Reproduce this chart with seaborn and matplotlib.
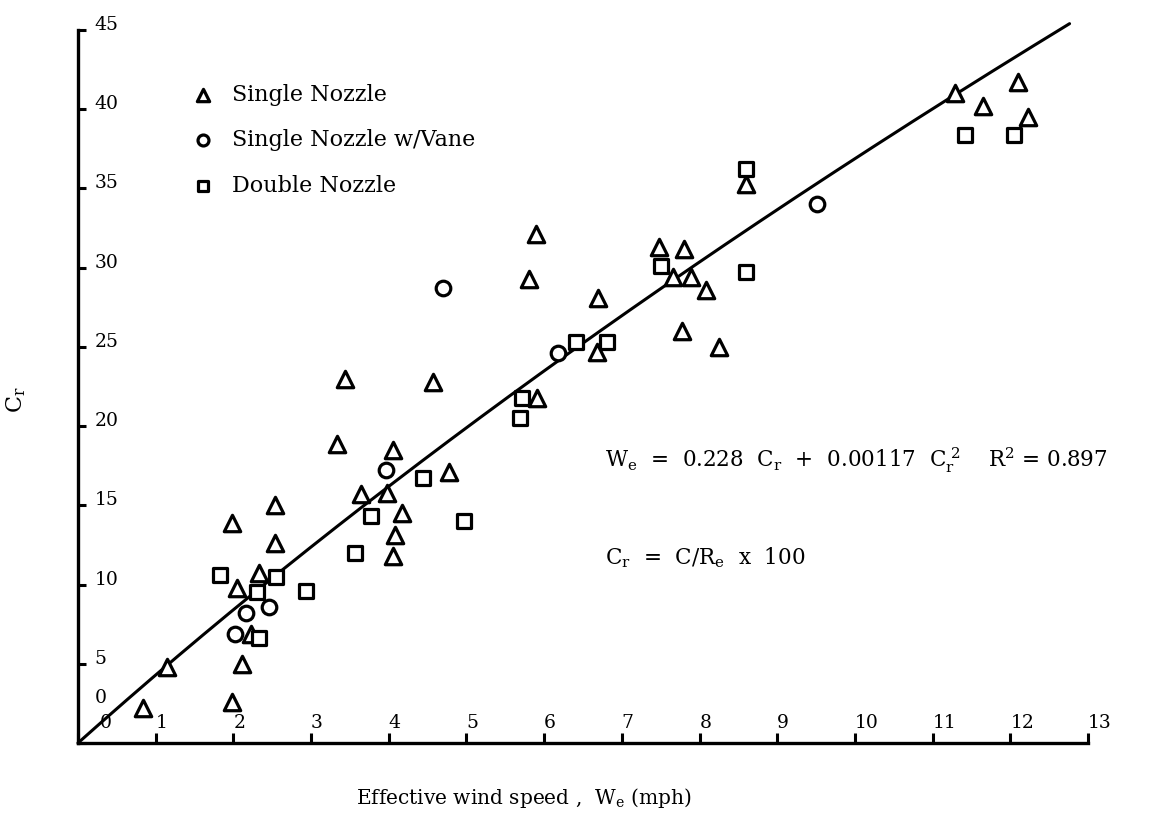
import matplotlib
matplotlib.use("Agg")
import matplotlib.pyplot as plt
import matplotlib.transforms as mtransforms
import numpy as np
import pandas as pd
import seaborn as sns

# Single nozzle measurements (effective wind speed in mph, C_r)
single_x = [0.84, 1.15, 1.98, 2.11, 2.23, 2.05, 2.33, 1.98, 2.54, 2.54,
            3.33, 3.44, 3.64, 3.98, 4.05, 4.17, 4.08, 4.05, 4.57, 4.77,
            5.80, 5.89, 5.91, 6.68, 6.69, 7.48, 7.80, 7.66, 7.89, 8.08,
            7.77, 8.25, 8.60, 11.29, 11.65, 12.10, 12.23]
single_y = [2.2, 4.8, 2.6, 5.0, 6.9, 9.8, 10.7, 13.9, 12.6, 15.0,
            18.9, 23.0, 15.7, 15.8, 18.5, 14.5, 13.1, 11.8, 22.8, 17.1,
            29.3, 32.1, 21.8, 24.7, 28.1, 31.3, 31.2, 29.4, 29.4, 28.6,
            26.0, 25.0, 35.3, 41.0, 40.2, 41.7, 39.5]

# Single nozzle with vane
vane_x = [2.02, 2.16, 2.46, 3.96, 4.70, 6.18, 9.51]
vane_y = [6.9, 8.2, 8.6, 17.2, 28.7, 24.6, 34.0]

# Double nozzle
double_x = [2.33, 2.30, 2.55, 1.83, 2.93, 3.56, 3.77, 4.44, 4.97, 5.69,
            5.71, 6.41, 6.81, 7.50, 8.60, 8.60, 11.42, 12.05]
double_y = [6.6, 9.5, 10.5, 10.6, 9.6, 12.0, 14.3, 16.7, 14.0, 20.5,
            21.8, 25.3, 25.3, 30.1, 29.7, 36.2, 38.4, 38.4]

# Regression: W_e = a*C_r + b*C_r^2
fit_a = 0.228
fit_b = 0.00117
fit_r2 = 0.897

x_ticks = list(range(0, 14))
y_ticks = list(range(0, 50, 5))

sns.set_style("ticks")
plt.rcParams["font.family"] = ["DejaVu Serif"]
plt.rcParams["mathtext.fontset"] = "dejavuserif"
for key in ("text.color", "axes.labelcolor", "xtick.color", "ytick.color",
            "axes.edgecolor"):
    plt.rcParams[key] = "black"

W, H = 1171, 821
fig = plt.figure(figsize=(W / 100, H / 100), dpi=100)
ax_left, ax_right, ax_bottom, ax_top = 78, 1088, 743, 30
ax = fig.add_axes([ax_left / W, (H - ax_bottom) / H,
                   (ax_right - ax_left) / W, (ax_bottom - ax_top) / H])

series = [
    ("Single Nozzle", single_x, single_y, "^", 140),
    ("Single Nozzle w/Vane", vane_x, vane_y, "o", 110),
    ("Double Nozzle", double_x, double_y, "s", 100),
]
for name, xs, ys, mk, size in series:
    df = pd.DataFrame({"We": xs, "Cr": ys})
    sns.scatterplot(data=df, x="We", y="Cr", marker=mk, s=size,
                    facecolor="white", edgecolor="black", linewidth=2.3,
                    ax=ax, label=name, zorder=3, clip_on=False)

# fitted curve
cr = np.linspace(0, 45.4, 200)
we = fit_a * cr + fit_b * cr ** 2
ax.plot(we, cr, color="black", lw=2.2, zorder=2, clip_on=False)

ax.set_xlim(0, 13)
ax.set_ylim(0, 45)
ax.set_xticks(x_ticks)
ax.set_yticks(y_ticks)
sns.despine(ax=ax)
for side in ("left", "bottom"):
    ax.spines[side].set_linewidth(2.4)

ax.tick_params(axis="x", direction="in", length=7, width=2.2,
               pad=-11, labelsize=13.5)
ax.tick_params(axis="y", direction="in", length=6, width=2.2,
               pad=-12, labelsize=13.5)

for lab in ax.get_xticklabels():
    lab.set_horizontalalignment("left")
    lab.set_verticalalignment("baseline")
for lab in ax.get_yticklabels():
    lab.set_horizontalalignment("left")
    lab.set_verticalalignment("baseline")

# the two zero labels sit a little away from the corner
xl0 = ax.get_xticklabels()[0]
xl0.set_transform(xl0.get_transform() +
                  mtransforms.ScaledTranslation(22 / 100, 0, fig.dpi_scale_trans))
yl0 = ax.get_yticklabels()[0]
yl0.set_transform(yl0.get_transform() +
                  mtransforms.ScaledTranslation(0, 40 / 100, fig.dpi_scale_trans))

ax.set_xlabel(r"Effective wind speed ,  W$_{\rm e}$ (mph)", fontsize=14.5)
ax.xaxis.set_label_coords((524 - ax_left) / (ax_right - ax_left),
                          (ax_bottom - 786) / (ax_bottom - ax_top))
ax.set_ylabel(r"C$_{\rm r}$", fontsize=16)
ax.yaxis.set_label_coords((28 - ax_left) / (ax_right - ax_left),
                          (ax_bottom - 400) / (ax_bottom - ax_top))

leg = ax.legend(loc="upper left",
                bbox_to_anchor=((192 - ax_left) / (ax_right - ax_left),
                                (ax_bottom - 84) / (ax_bottom - ax_top)),
                frameon=False, fontsize=16, borderpad=0, borderaxespad=0,
                handlelength=1.0, handletextpad=0.8, labelspacing=1.05,
                markerscale=0.75)

ax.text((605 - ax_left) / (ax_right - ax_left), (ax_bottom - 460) / (ax_bottom - ax_top),
        r"W$_{\rm e}$  =  0.228  C$_{\rm r}$  +  0.00117  C$_{\rm r}^{\ 2}$    R$^{2}$ = 0.897",
        transform=ax.transAxes, fontsize=15.5, va="center", ha="left")
ax.text((605 - ax_left) / (ax_right - ax_left), (ax_bottom - 558) / (ax_bottom - ax_top),
        r"C$_{\rm r}$  =  C/R$_{\rm e}$  x  100",
        transform=ax.transAxes, fontsize=15.5, va="center", ha="left")

fig.savefig("out.png", dpi=100, facecolor="white")
